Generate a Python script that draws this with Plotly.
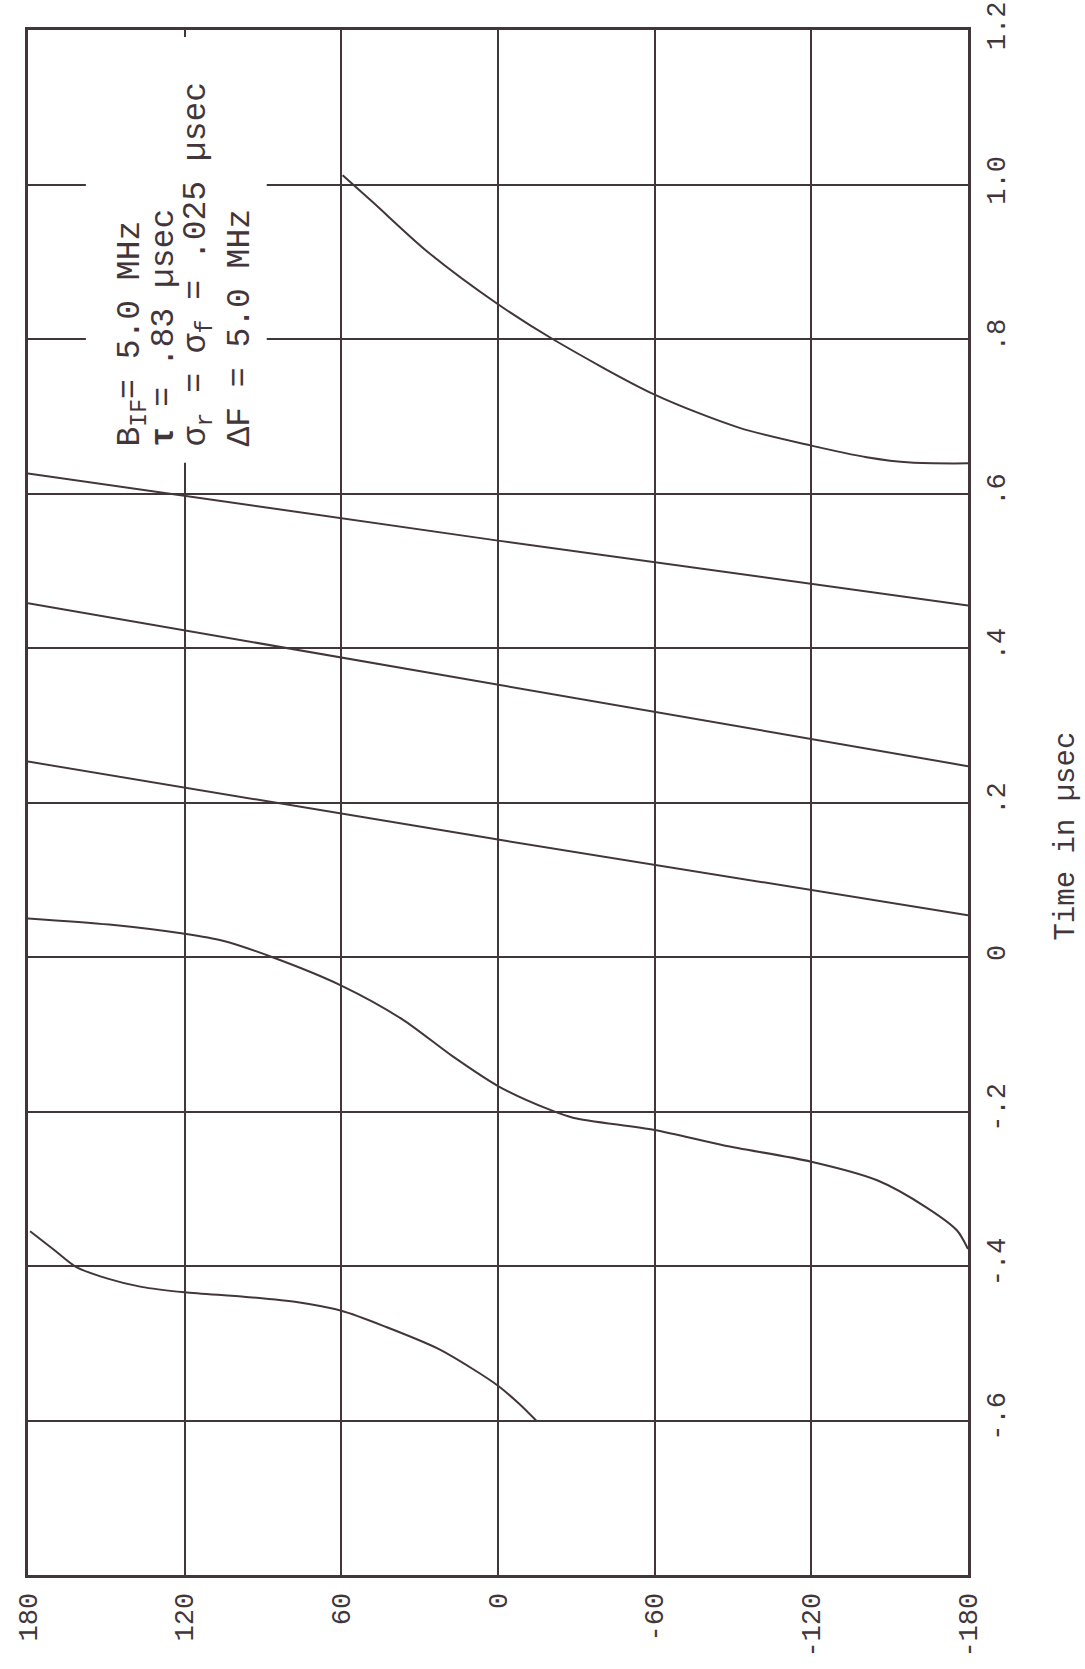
import plotly.graph_objects as go

# ---- data (phase in degrees, time in microseconds) ----
curveA_phase = [59.5, 47.9, 27.0, 0.0, -20.9, -60.0, -92.5, -120.0, -141.2, -158.0, -180.0]
curveA_time = [1.012, 0.977, 0.913, 0.845, 0.800, 0.728, 0.685, 0.662, 0.647, 0.640, 0.639]

line1_phase = [180, 0, -180]
line1_time = [0.626, 0.539, 0.455]
line2_phase = [180, 0, -180]
line2_time = [0.458, 0.353, 0.247]
line3_phase = [180, 0, -180]
line3_time = [0.253, 0.152, 0.054]

curveB_phase = [180, 148.9, 120, 105.4, 86.6, 60, 36.5, 17.6, 0, -19.3, -28.7, -60, -86.6, -120, -145.2, -164, -175.8, -180]
curveB_time = [0.050, 0.042, 0.030, 0.021, 0.000, -0.037, -0.081, -0.128, -0.167, -0.197, -0.208, -0.224, -0.244, -0.265, -0.289, -0.324, -0.354, -0.378]

curveC_phase = [179.2, 169.7, 161.7, 149.8, 136.6, 120, 96.5, 76.6, 60, 42.8, 23, 9.8, 0, -8, -14.6]
curveC_time = [-0.355, -0.380, -0.401, -0.416, -0.427, -0.434, -0.440, -0.447, -0.458, -0.479, -0.507, -0.533, -0.555, -0.578, -0.600]

phase_ticks = [180, 120, 60, 0, -60, -120, -180]
phase_labels = ["180", "120", "60", "0", "-60", "-120", "-180"]
time_ticks = [-0.6, -0.4, -0.2, 0, 0.2, 0.4, 0.6, 0.8, 1.0, 1.2]
time_labels = ["-.6", "-.4", "-.2", "0", ".2", ".4", ".6", ".8", "1.0", "1.2"]

param_lines = [
    "B<sub>IF</sub>= 5.0 MHz",
    "<b>τ</b> = .83 µsec",
    "σ<sub>r</sub> = σ<sub>f</sub> = .025 µsec",
    "ΔF = 5.0 MHz",
]

INK = "#43363a"
FONT = "Liberation Mono"

fig = go.Figure()
series = [
    (curveA_phase, curveA_time, "spline"),
    (line1_phase, line1_time, "linear"),
    (line2_phase, line2_time, "linear"),
    (line3_phase, line3_time, "linear"),
    (curveB_phase, curveB_time, "spline"),
    (curveC_phase, curveC_time, "spline"),
]
for px, ty, shp in series:
    fig.add_trace(go.Scatter(
        x=px, y=ty, mode="lines",
        line=dict(color=INK, width=2, shape=shp, smoothing=0.8),
        showlegend=False, hoverinfo="skip",
    ))

fig.update_layout(
    width=1085, height=1669,
    margin=dict(l=28, r=117, t=30, b=94),
    paper_bgcolor="white", plot_bgcolor="white",
    font=dict(family=FONT, color=INK, size=27),
    showlegend=False,
)
fig.update_xaxes(
    range=[180, -180], tickvals=phase_ticks, ticktext=phase_labels,
    tickangle=-90, showgrid=True, gridcolor=INK, gridwidth=1.6,
    showline=True, linecolor=INK, linewidth=3, mirror=True,
    zeroline=False, ticks="", ticklabelstandoff=4, automargin=False,
    tickfont=dict(family=FONT, size=27, color=INK),
)
fig.update_yaxes(
    range=[-0.8, 1.2], tickvals=time_ticks, ticktext=time_labels,
    side="right", tickangle=-90, showgrid=True, gridcolor=INK, gridwidth=1.6,
    showline=True, linecolor=INK, linewidth=3, mirror=True,
    zeroline=False, ticks="", ticklabelstandoff=2, automargin=False,
    tickfont=dict(family=FONT, size=27, color=INK),
)

# white mask behind the parameter text (covers grid lines)
fig.add_shape(type="rect", xref="paper", yref="paper",
              x0=0.0616, x1=0.2540, y0=0.7199, y1=0.9955,
              fillcolor="white", line=dict(width=0), layer="above")

line_x = [0.1115, 0.1455, 0.1815, 0.2265]
for txt, xp in zip(param_lines, line_x):
    fig.add_annotation(text=txt, xref="paper", yref="paper", x=xp, y=0.7290,
                       xanchor="center", yanchor="bottom", textangle=-90,
                       showarrow=False, align="left",
                       font=dict(family=FONT, size=33, color=INK))

fig.add_annotation(text="Time in µsec", xref="paper", yref="paper",
                   x=1.1043, y=0.4780, xanchor="center", yanchor="middle",
                   textangle=-90, showarrow=False,
                   font=dict(family=FONT, size=29, color=INK))

fig.write_html("out.html", config={"displayModeBar": False},
               post_script="document.body.style.margin='0px';")
